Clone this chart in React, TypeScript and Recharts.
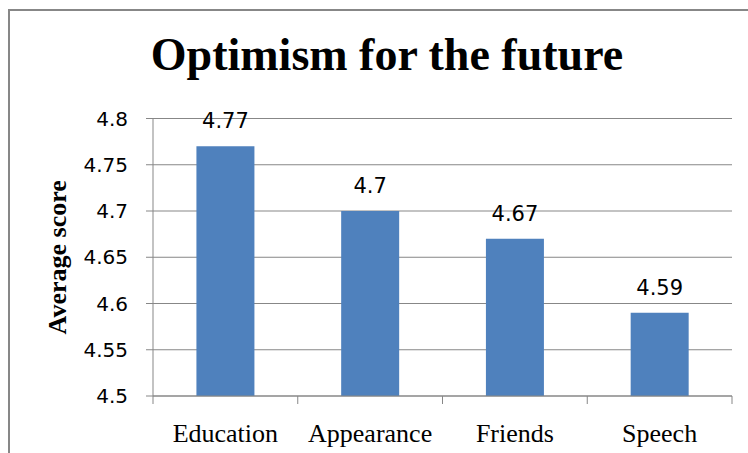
import { BarChart, Bar, XAxis, YAxis, CartesianGrid, LabelList } from "recharts";

const CATEGORIES = ["Education", "Appearance", "Friends", "Speech"];
const SCORES = [4.77, 4.7, 4.67, 4.59];
const Y_TICKS = [4.5, 4.55, 4.6, 4.65, 4.7, 4.75, 4.8];

const TITLE = "Optimism for the future";
const Y_TITLE = "Average score";

const data = CATEGORIES.map((name, i) => ({ name, score: SCORES[i] }));

const GRAY = "#878787";
const SERIF = "'Liberation Serif', 'Times New Roman', serif";
const SANS = "'DejaVu Sans', sans-serif";

// category label in the middle, tick marks on the band edges
const CategoryTick = (props: any) => {
  const { x, y, payload, index } = props;
  const half = payload?.offset || 72.4;
  const axisY = y - 28;
  const last = index === CATEGORIES.length - 1;
  return (
    <g>
      <line x1={x - half} x2={x - half} y1={axisY} y2={axisY + 8} stroke={GRAY} />
      {last && <line x1={x + half} x2={x + half} y1={axisY} y2={axisY + 8} stroke={GRAY} />}
      <text x={x} y={y} dy="0.71em" textAnchor="middle" fontFamily={SERIF} fontSize={26} fill="#000">
        {payload.value}
      </text>
    </g>
  );
};

const AxisTitle = (props: any) => {
  const vb = props.viewBox || { x: 0, y: 118.5, width: 153, height: 277.5 };
  const cy = vb.y + vb.height / 2;
  return (
    <text
      x={66}
      y={cy}
      transform={`rotate(-90 66 ${cy})`}
      textAnchor="middle"
      fontFamily={SERIF}
      fontWeight="bold"
      fontSize={26}
      fill="#000"
    >
      {Y_TITLE}
    </text>
  );
};

export default function App() {
  return (
    <div style={{ position: "relative", width: 748, height: 453, overflow: "hidden", background: "#fff" }}>
      <style>{`body{margin:0;overflow:hidden}`}</style>
      <div
        style={{
          position: "absolute",
          left: 8,
          top: 9,
          width: 760,
          height: 460,
          borderTop: `2px solid ${GRAY}`,
          borderLeft: `2px solid ${GRAY}`,
        }}
      />
      <svg width={748} height={100} style={{ position: "absolute", left: 0, top: 0 }}>
        <text x={387} y={70} textAnchor="middle" fontFamily={SERIF} fontWeight="bold" fontSize={46} fill="#000">
          {TITLE}
        </text>
      </svg>
      <div style={{ position: "absolute", left: 0, top: 0 }}>
        <BarChart
          width={748}
          height={453}
          data={data}
          margin={{ top: 118.5, right: 16, bottom: 0, left: 0 }}
          barCategoryGap="30%"
        >
          <CartesianGrid vertical={false} stroke={GRAY} />
          <XAxis
            dataKey="name"
            height={57}
            axisLine={{ stroke: GRAY }}
            tickLine={false}
            tickSize={0}
            tickMargin={28}
            interval={0}
            tick={<CategoryTick />}
          />
          <YAxis
            width={153}
            domain={[4.5, 4.8]}
            ticks={Y_TICKS}
            interval={0}
            allowDataOverflow
            axisLine={{ stroke: GRAY }}
            tickLine={{ stroke: GRAY }}
            tickSize={7}
            tickMargin={18}
            tick={{ fontFamily: SANS, fontSize: 20, fill: "#000" }}
            tickFormatter={(v: number) => String(v)}
            label={<AxisTitle />}
          />
          <Bar dataKey="score" fill="#4F81BD" isAnimationActive={false}>
            <LabelList
              dataKey="score"
              position="top"
              offset={18}
              style={{ fontFamily: SANS, fontSize: 21, fill: "#000" }}
            />
          </Bar>
        </BarChart>
      </div>
    </div>
  );
}
